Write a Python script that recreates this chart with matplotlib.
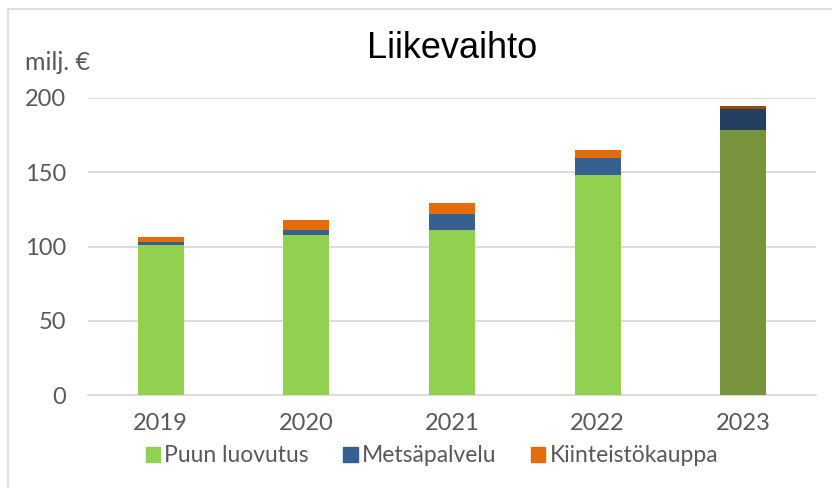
import matplotlib
matplotlib.use("Agg")
import matplotlib.pyplot as plt
from matplotlib.patches import Rectangle
import numpy as np

years = ["2019", "2020", "2021", "2022", "2023"]
puun_luovutus = [101, 108, 111, 148, 178.5]
metsapalvelu = [2.2, 3, 11, 11.3, 14]
kiinteistokauppa = [3, 7, 7, 5.4, 2]

labels = ["Puun luovutus", "Metsäpalvelu", "Kiinteistökauppa"]
colors = ["#92D050", "#35608F", "#E46C0A"]
colors_last = ["#77933C", "#243F60", "#984807"]
grey = "#595959"

plt.rcParams["font.family"] = ["Lato", "DejaVu Sans"]

fig = plt.figure(figsize=(8.32, 4.88), dpi=100)
ax = fig.add_axes([88 / 832, 1 - 395 / 488, 728 / 832, 297 / 488])

# chart border (cut off on right/bottom in original)
fig.patches.append(Rectangle((8 / 832, -0.1), 1.2, 1 - 9 / 488 + 0.1,
                             transform=fig.transFigure, fill=False,
                             edgecolor="#D9D9D9", linewidth=1.2))

x = np.arange(len(years))
w = 0.316
bottom = np.zeros(len(years))
for series, c, cl, lab in zip([puun_luovutus, metsapalvelu, kiinteistokauppa],
                              colors, colors_last, labels):
    cols = [c] * (len(years) - 1) + [cl]
    ax.bar(x, series, w, bottom=bottom, color=cols, label=lab, zorder=3)
    bottom += np.array(series)

ax.set_xlim(-0.5, len(years) - 0.5)
ax.set_ylim(0, 200)
ax.set_yticks([0, 50, 100, 150, 200])
ax.set_xticks(x)
ax.set_xticklabels(years)
ax.grid(axis="y", color="#D9D9D9", linewidth=1.3, zorder=0)
for s in ["top", "right", "left"]:
    ax.spines[s].set_visible(False)
ax.spines["bottom"].set_color("#D9D9D9")
ax.spines["bottom"].set_linewidth(1.3)
ax.tick_params(axis="y", length=0, pad=16, labelsize=17, labelcolor=grey)
ax.tick_params(axis="x", length=0, pad=13, labelsize=17, labelcolor=grey)

fig.text(452 / 832, 1 - 48 / 488, "Liikevaihto", ha="center", va="center",
         fontsize=26, color="black", family=["Liberation Sans", "DejaVu Sans"])
fig.text(25 / 832, 1 - 62 / 488, "milj. €", ha="left", va="center",
         fontsize=18, color=grey)

leg = fig.legend(loc="center", bbox_to_anchor=(432 / 832, 1 - 456 / 488),
                 ncol=3, frameon=False, fontsize=16.5, handlelength=0.62,
                 handleheight=0.62, handletextpad=0.2, columnspacing=1.5,
                 labelcolor=grey)
# legend markers use the regular colours
for h, c in zip(leg.legend_handles, colors):
    h.set_color(c)

fig.savefig("out.png", dpi=100)
